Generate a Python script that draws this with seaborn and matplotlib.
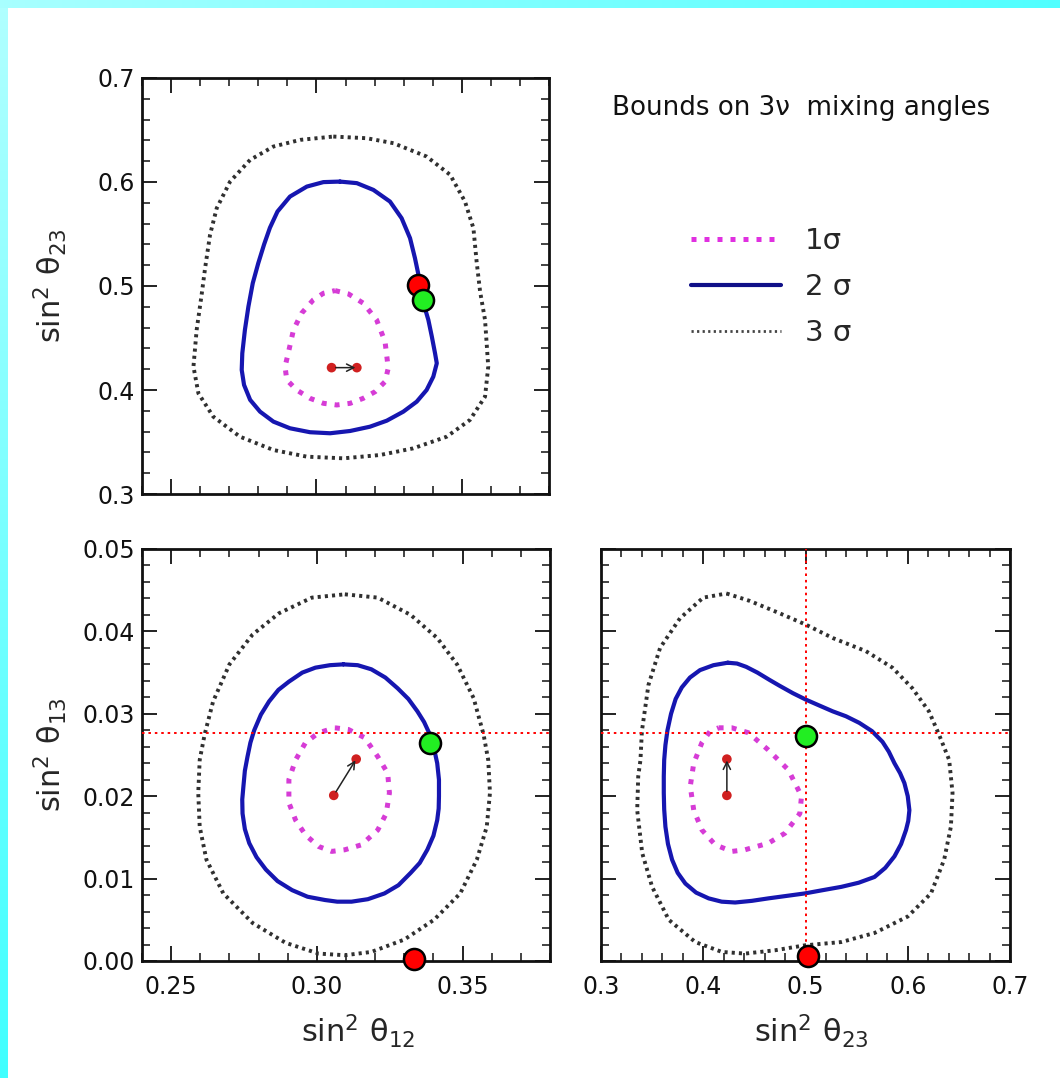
import numpy as np
import matplotlib
matplotlib.use('Agg')
import matplotlib.pyplot as plt
import seaborn as sns
import pandas as pd
from matplotlib.lines import Line2D
from matplotlib.colors import LinearSegmentedColormap
from matplotlib.ticker import MultipleLocator, FormatStrFormatter

sns.set_style('ticks')
plt.rcParams['font.family'] = ['DejaVu Sans']
plt.rcParams['mathtext.default'] = 'regular'

# ---------------- data ----------------
# top-left panel: sin^2 th12 (x) vs sin^2 th23 (y)
tl_1s_x = [0.3064, 0.311, 0.3161, 0.3207, 0.3236, 0.3247, 0.3236, 0.3202, 0.3161, 0.3116, 0.307, 0.3024,
           0.2978, 0.2932, 0.2898, 0.2892, 0.2903, 0.2921, 0.2949, 0.2989, 0.3024]
tl_1s_y = [0.4956, 0.4924, 0.4835, 0.4674, 0.4465, 0.421, 0.408, 0.3984, 0.392, 0.3872, 0.3856, 0.3872,
           0.392, 0.400, 0.4097, 0.4225, 0.4353, 0.4578, 0.4738, 0.4866, 0.493]
tl_2s_x = [0.3081, 0.3139, 0.3196, 0.3253, 0.3293, 0.3322, 0.3339, 0.3351, 0.3368, 0.3385, 0.3397, 0.3408,
           0.3414, 0.3402, 0.3379, 0.3345, 0.3299, 0.3242, 0.3184, 0.3116, 0.3047, 0.2978, 0.2909, 0.2852,
           0.2806, 0.2772, 0.2751, 0.2743, 0.2745, 0.2754, 0.2766, 0.2781, 0.2800, 0.2820, 0.2840, 0.2866,
           0.2909, 0.2967, 0.3024]
tl_2s_y = [0.6004, 0.5989, 0.5924, 0.5812, 0.5652, 0.5460, 0.5267, 0.5107, 0.4835, 0.4674, 0.4513, 0.4353,
           0.4257, 0.4128, 0.4000, 0.3888, 0.3792, 0.3705, 0.3647, 0.3606, 0.3584, 0.3594, 0.3632, 0.3696,
           0.3792, 0.3905, 0.4049, 0.4193, 0.4353, 0.4578, 0.4802, 0.5027, 0.5220, 0.5400, 0.5560, 0.5716,
           0.5860, 0.5956, 0.5999]
tl_3s_x = [0.3058, 0.3173, 0.3265, 0.3379, 0.346, 0.3511, 0.354, 0.3551, 0.3563, 0.358, 0.3591, 0.358,
           0.3528, 0.3448, 0.3333, 0.3219, 0.3093, 0.2967, 0.2852, 0.2737, 0.2645, 0.2594, 0.2577, 0.2588,
           0.2605, 0.2617, 0.2634, 0.2657, 0.2703, 0.2772, 0.2852, 0.2944]
tl_3s_y = [0.6437, 0.6421, 0.6373, 0.6245, 0.6069, 0.5812, 0.5556, 0.5235, 0.4946, 0.4674, 0.4225, 0.3936,
           0.3712, 0.3551, 0.3439, 0.3375, 0.3343, 0.3359, 0.3423, 0.3551, 0.3744, 0.3968, 0.4225, 0.4578,
           0.4914, 0.5171, 0.5492, 0.5748, 0.6004, 0.6213, 0.6341, 0.6405]

# bottom-left panel: sin^2 th12 (x) vs sin^2 th13 (y)
bl_1s_x = [0.3062, 0.3108, 0.3164, 0.3209, 0.3243, 0.3249, 0.3238, 0.3209, 0.3153, 0.3096, 0.3051, 0.3006,
           0.2961, 0.2927, 0.2904, 0.2904, 0.2927, 0.2961, 0.3006]
bl_1s_y = [0.0283, 0.0281, 0.0271, 0.0248, 0.0228, 0.0204, 0.0179, 0.0159, 0.0141, 0.0135, 0.0133, 0.0139,
           0.0153, 0.0171, 0.0192, 0.0220, 0.0244, 0.0265, 0.0277]
bl_2s_x = [0.3091, 0.3140, 0.3187, 0.3235, 0.3277, 0.3314, 0.3345, 0.3368, 0.3385, 0.3402, 0.3413, 0.3419,
           0.3419, 0.3418, 0.3413, 0.3400, 0.3379, 0.3353, 0.3322, 0.3280, 0.3232, 0.3175, 0.3119, 0.3070,
           0.3028, 0.2968, 0.2915, 0.2865, 0.2825, 0.2793, 0.2768, 0.2753, 0.2745, 0.2744, 0.2748, 0.2753,
           0.2762, 0.2772, 0.2785, 0.2808, 0.2836, 0.2868, 0.2904, 0.2950, 0.2995, 0.3045]
bl_2s_y = [0.0360, 0.0359, 0.0354, 0.0344, 0.0331, 0.0318, 0.0303, 0.0290, 0.0277, 0.0258, 0.0240, 0.0220,
           0.0200, 0.0185, 0.0171, 0.0152, 0.0135, 0.0119, 0.0107, 0.0092, 0.0082, 0.0075, 0.0072, 0.0072,
           0.0074, 0.0078, 0.0086, 0.0097, 0.0111, 0.0126, 0.0143, 0.0160, 0.0179, 0.0196, 0.0212, 0.0231,
           0.0248, 0.0265, 0.0280, 0.0299, 0.0315, 0.0329, 0.0339, 0.0350, 0.0356, 0.0359]
bl_3s_x = [0.3096, 0.3209, 0.3322, 0.3413, 0.3481, 0.3538, 0.3572, 0.3588, 0.3594, 0.3583, 0.3549, 0.3492,
           0.3402, 0.3300, 0.3187, 0.3096, 0.3006, 0.2893, 0.2780, 0.2679, 0.2621, 0.2598, 0.2593, 0.2598,
           0.2615, 0.2644, 0.2700, 0.2779, 0.2870, 0.2983]
bl_3s_y = [0.0445, 0.0441, 0.0420, 0.0392, 0.0360, 0.0319, 0.0275, 0.0244, 0.0204, 0.0163, 0.0123, 0.0082,
           0.0050, 0.0026, 0.0011, 0.0007, 0.0009, 0.0022, 0.0046, 0.0082, 0.0123, 0.0163, 0.0204, 0.0244,
           0.0275, 0.0315, 0.0360, 0.0396, 0.0422, 0.0441]

# bottom-right panel: sin^2 th23 (x) vs sin^2 th13 (y)
br_1s_x = [0.415, 0.428, 0.4442, 0.4637, 0.4832, 0.4961, 0.4945, 0.4798, 0.4637, 0.4409, 0.428, 0.4117,
           0.3987, 0.3907, 0.3873, 0.3907, 0.3987, 0.4068]
br_1s_y = [0.0283, 0.0283, 0.0277, 0.0256, 0.0232, 0.0200, 0.0179, 0.0155, 0.0143, 0.0135, 0.0133, 0.0141,
           0.0159, 0.0183, 0.0212, 0.0240, 0.0265, 0.0279]
br_2s_x = [0.4240, 0.4330, 0.4420, 0.4530, 0.4650, 0.4747, 0.4877, 0.5007, 0.5136, 0.5266, 0.5396, 0.5526,
           0.5650, 0.5753, 0.5815, 0.5870, 0.5925, 0.5967, 0.6000, 0.6016, 0.6005, 0.5983, 0.5935, 0.5870,
           0.5780, 0.5675, 0.5520, 0.5351, 0.5170, 0.4993, 0.4815, 0.4637, 0.4475, 0.4312, 0.4180, 0.4053,
           0.3930, 0.3825, 0.3750, 0.3695, 0.3655, 0.3630, 0.3618, 0.3614, 0.3614, 0.3618, 0.3630, 0.3650,
           0.3685, 0.3730, 0.3790, 0.3870, 0.3968, 0.4100]
br_2s_y = [0.0362, 0.0361, 0.0357, 0.0350, 0.0341, 0.0334, 0.0325, 0.0317, 0.0310, 0.0303, 0.0297, 0.0289,
           0.0279, 0.0266, 0.0254, 0.0240, 0.0228, 0.0216, 0.0200, 0.0183, 0.0170, 0.0159, 0.0142, 0.0127,
           0.0113, 0.0102, 0.0095, 0.0090, 0.0086, 0.0082, 0.0079, 0.0076, 0.0073, 0.0071, 0.0072, 0.0076,
           0.0083, 0.0094, 0.0107, 0.0123, 0.0142, 0.0163, 0.0184, 0.0204, 0.0224, 0.0244, 0.0262, 0.0280,
           0.0300, 0.0318, 0.0332, 0.0344, 0.0353, 0.0359]
br_3s_x = [0.4228, 0.4455, 0.4747, 0.5007, 0.5266, 0.5591, 0.585, 0.6045, 0.6207, 0.6305, 0.6405, 0.6438,
           0.6422, 0.6356, 0.6227, 0.600, 0.5675, 0.535, 0.4993, 0.4701, 0.4409, 0.4182, 0.3922, 0.3663,
           0.350, 0.3403, 0.3354, 0.3364, 0.3386, 0.340, 0.3464, 0.3578, 0.3773, 0.400]
br_3s_y = [0.0446, 0.0437, 0.0422, 0.0408, 0.0392, 0.0376, 0.0356, 0.0331, 0.0303, 0.0275, 0.0244, 0.0204,
           0.0163, 0.0123, 0.0082, 0.0054, 0.0034, 0.0023, 0.0019, 0.0013, 0.0009, 0.0011, 0.0023, 0.0050,
           0.0090, 0.0131, 0.0183, 0.0224, 0.0244, 0.0279, 0.0335, 0.0380, 0.0416, 0.0441]

# best fit points (old -> new) per panel
tl_best_x = [0.3052, 0.3139]
tl_best_y = [0.4215, 0.4215]
bl_best_x = [0.3058, 0.3135]
bl_best_y = [0.0201, 0.0245]
br_best_x = [0.4231, 0.4231]
br_best_y = [0.0201, 0.0245]

# reference points (red) and (green)
tl_red = (0.3350, 0.5010)
tl_green = (0.3368, 0.4866)
bl_red = (0.3334, 0.0003)
bl_green = (0.3388, 0.0265)
br_red = (0.5026, 0.0006)
br_green = (0.5000, 0.0273)

# red dotted guide lines
s13_line = 0.0277
s23_line = 0.50

legend_labels = ['1\u03c3', '2 \u03c3', '3 \u03c3']
title_text = 'Bounds on 3\u03bd  mixing angles'

# ---------------- styles ----------------
W, H = 1060, 1078
C1 = '#d63cd6'
C2 = '#1616b0'
C3 = '#303030'
ST1 = dict(color=C1, lw=3.6, linestyle=(0, (1.0, 1.6)), dash_capstyle='butt')
ST2 = dict(color=C2, lw=3.0, linestyle='-', solid_joinstyle='round')
ST3 = dict(color=C3, lw=2.8, linestyle=(0, (0.8, 1.05)), dash_capstyle='butt')

fig = plt.figure(figsize=(W / 100, H / 100), dpi=100)
fig.patch.set_facecolor('white')

# cyan gradient borders
cm_top = LinearSegmentedColormap.from_list('t', ['#a8ffff', '#50ffff'])
cm_left = LinearSegmentedColormap.from_list('l', ['#b0ffff', '#40ffff'])
axb = fig.add_axes([0, 1 - 8 / H, 1, 8 / H])
axb.imshow(np.linspace(0, 1, 256)[None, :], aspect='auto', cmap=cm_top)
axb.axis('off')
axl = fig.add_axes([0, 0, 8 / W, 1 - 8 / H])
axl.imshow(np.linspace(0, 1, 256)[:, None], aspect='auto', cmap=cm_left)
axl.axis('off')


def pax(l, r, t, b):
    return fig.add_axes([l / W, 1 - b / H, (r - l) / W, (b - t) / H])


ax_tl = pax(142, 549, 78, 494)
ax_bl = pax(142, 550, 549, 961)
ax_br = pax(601, 1010, 549, 961)


def contour(ax, xs, ys, st):
    df = pd.DataFrame({'x': list(xs) + [xs[0]], 'y': list(ys) + [ys[0]]})
    sns.lineplot(data=df, x='x', y='y', sort=False, estimator=None, ax=ax, **st)


def style_axis(ax, xlim, ylim, xmaj, xmin, ymaj, ymin, xfmt, yfmt, xlab, ylab):
    ax.set_xlim(*xlim)
    ax.set_ylim(*ylim)
    ax.xaxis.set_major_locator(MultipleLocator(xmaj))
    ax.xaxis.set_minor_locator(MultipleLocator(xmin))
    ax.yaxis.set_major_locator(MultipleLocator(ymaj))
    ax.yaxis.set_minor_locator(MultipleLocator(ymin))
    ax.xaxis.set_major_formatter(FormatStrFormatter(xfmt))
    ax.yaxis.set_major_formatter(FormatStrFormatter(yfmt))
    ax.tick_params(which='both', direction='in', top=True, right=True, colors='#111111')
    ax.tick_params(which='major', length=11, width=1.3, labelsize=17)
    ax.tick_params(which='minor', length=6, width=1.1)
    ax.tick_params(axis='x', pad=10)
    ax.tick_params(axis='y', pad=5)
    for s in ax.spines.values():
        s.set_linewidth(2.0)
        s.set_color('#111111')
    ax.set_xlabel(xlab, fontsize=22)
    ax.set_ylabel(ylab, fontsize=22)


def points(ax, bx, by, red, green):
    sns.scatterplot(x=bx, y=by, ax=ax, s=48, color='#d02020', edgecolor='none', zorder=6)
    ax.annotate('', xy=(bx[1], by[1]), xytext=(bx[0], by[0]),
                arrowprops=dict(arrowstyle='->', color='#222222', lw=1.1,
                                shrinkA=3, shrinkB=1, mutation_scale=13), zorder=7)
    for pt, c in ((red, '#ff0000'), (green, '#22ee22')):
        sns.scatterplot(x=[pt[0]], y=[pt[1]], ax=ax, s=230, color=c, edgecolor='black',
                        linewidth=1.8, zorder=20)
        ax.collections[-1].set_clip_on(False)


lab12 = r'$\mathregular{sin^2\ \theta_{12}}$'
lab23 = r'$\mathregular{sin^2\ \theta_{23}}$'
lab13 = r'$\mathregular{sin^2\ \theta_{13}}$'

# top-left
contour(ax_tl, tl_3s_x, tl_3s_y, ST3)
contour(ax_tl, tl_2s_x, tl_2s_y, ST2)
contour(ax_tl, tl_1s_x, tl_1s_y, ST1)
points(ax_tl, tl_best_x, tl_best_y, tl_red, tl_green)
style_axis(ax_tl, (0.24, 0.38), (0.3, 0.7), 0.05, 0.01, 0.1, 0.02, '%.2f', '%.1f', '', lab23)
ax_tl.tick_params(axis='x', labelbottom=False)

# bottom-left
ax_bl.axhline(s13_line, color='#ff0000', lw=1.4, linestyle=(0, (1.3, 2.0)), zorder=3)
contour(ax_bl, bl_3s_x, bl_3s_y, ST3)
contour(ax_bl, bl_2s_x, bl_2s_y, ST2)
contour(ax_bl, bl_1s_x, bl_1s_y, ST1)
points(ax_bl, bl_best_x, bl_best_y, bl_red, bl_green)
style_axis(ax_bl, (0.24, 0.38), (0.0, 0.05), 0.05, 0.01, 0.01, 0.002, '%.2f', '%.2f', lab12, lab13)

# bottom-right
ax_br.axhline(s13_line, color='#ff0000', lw=1.4, linestyle=(0, (1.3, 2.0)), zorder=3)
ax_br.axvline(s23_line, color='#ff0000', lw=1.4, linestyle=(0, (1.3, 2.0)), zorder=3)
contour(ax_br, br_3s_x, br_3s_y, ST3)
contour(ax_br, br_2s_x, br_2s_y, ST2)
contour(ax_br, br_1s_x, br_1s_y, ST1)
points(ax_br, br_best_x, br_best_y, br_red, br_green)
style_axis(ax_br, (0.3, 0.7), (0.0, 0.05), 0.1, 0.02, 0.01, 0.002, '%.1f', '%.2f', lab23, '')
ax_br.tick_params(axis='y', labelleft=False)

# label positions
for ax in (ax_tl, ax_bl):
    ax.yaxis.set_label_coords(-0.225, 0.5)
    ax.yaxis.label.set_va('center')
ax_bl.xaxis.set_label_coords(0.53, -0.17)
ax_br.xaxis.set_label_coords(0.515, -0.17)
for ax in (ax_bl, ax_br):
    ax.xaxis.label.set_va('center')

# title & legend
fig.text(612 / W, 1 - 108 / H, title_text, fontsize=18.8, ha='left', va='center', color='#111111')
handles = [Line2D([], [], color='#e030e0', lw=3.6, linestyle=(0, (1.0, 1.6)), dash_capstyle='butt'),
           Line2D([], [], color='#101088', lw=3.0),
           Line2D([], [], color='#444444', lw=2.0, linestyle=(0, (0.8, 1.2)), dash_capstyle='butt')]
fig.legend(handles, legend_labels, loc='center left', bbox_to_anchor=(691 / W, 1 - 287 / H),
           frameon=False, fontsize=21, handlelength=3.1, handletextpad=0.8, labelspacing=0.62,
           borderpad=0, borderaxespad=0)

fig.savefig('out.png', dpi=100, facecolor='white')
